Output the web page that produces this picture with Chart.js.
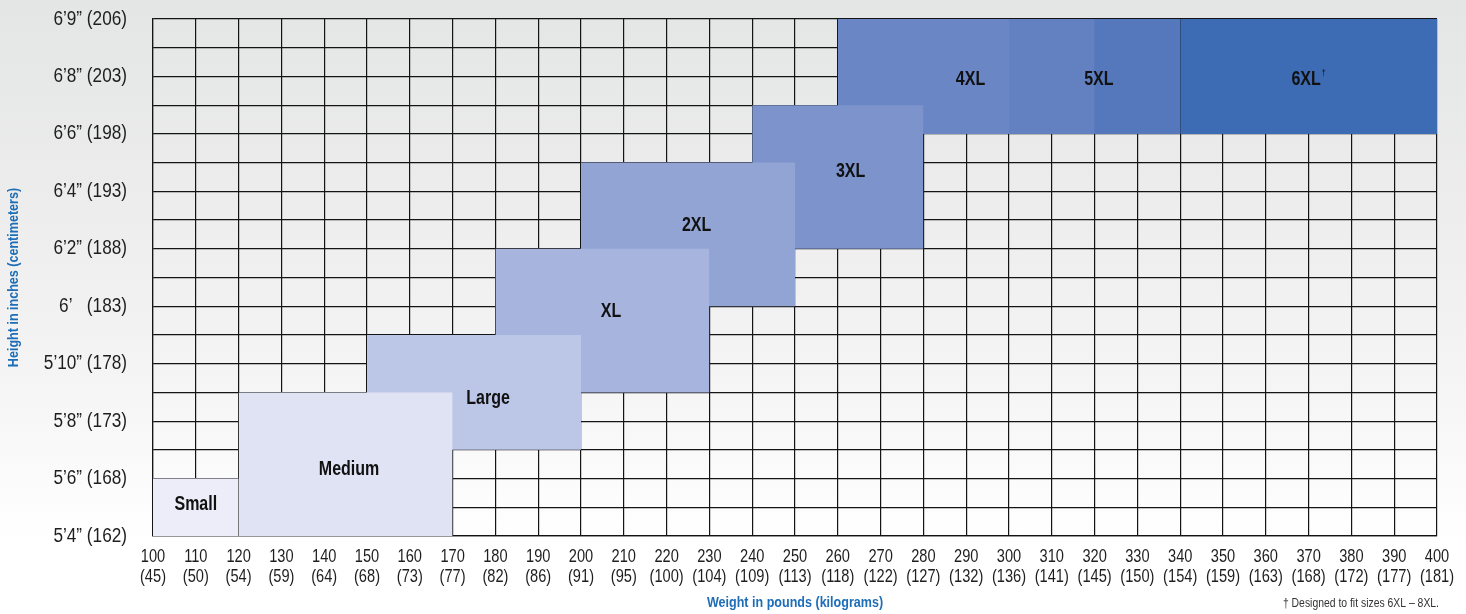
<!DOCTYPE html>
<html>
<head>
<meta charset="utf-8">
<script src="https://cdn.jsdelivr.net/npm/chart.js@4.4.1/dist/chart.umd.min.js"></script>
<style>
  html, body { margin: 0; padding: 0; }
  body {
    width: 1466px; height: 614px; overflow: hidden;
    background: linear-gradient(to bottom, #e4e5e5 0%, #ececec 30%, #f4f4f4 60%, #ffffff 88%, #ffffff 100%);
  }
  #wrap { position: relative; width: 1466px; height: 614px; }
  canvas { display: block; }
</style>
</head>
<body>
<div id="wrap"><canvas id="c" width="1466" height="614"></canvas></div>
<script>
// ---------- data ----------
const sizeNames   = ['Small', 'Medium', 'Large', 'XL', '2XL', '3XL', '4XL', '5XL', '6XL'];
const weightMin   = [100, 120, 150, 180, 200, 240, 260, 300, 340];   // lbs
const weightMax   = [120, 170, 200, 230, 250, 280, 320, 340, 400];   // lbs
const heightMin   = [64, 64, 67, 69, 72, 74, 78, 78, 78];            // inches
const heightMax   = [66, 69, 71, 74, 77, 79, 82, 82, 82];            // inches
const labelWeight = [110, 145.8, 178.3, 207, 227, 263, 291, 321, 370];
const labelHeight = [65.1, 66.3, 68.8, 71.8, 74.8, 76.7, 79.9, 79.9, 79.9];
const daggerSizes = ['6XL'];

const weightTicks = [100,110,120,130,140,150,160,170,180,190,200,210,220,230,240,250,260,270,280,290,300,310,320,330,340,350,360,370,380,390,400];
const kgTicks     = [45,50,54,59,64,68,73,77,82,86,91,95,100,104,109,113,118,122,127,132,136,141,145,150,154,159,163,168,172,177,181];
const heightTickValues = [64, 66, 68, 70, 72, 74, 76, 78, 80, 82];
const heightTickLabels = ['5’4” (162)', '5’6” (168)', '5’8” (173)', '5’10” (178)', '6’   (183)',
                          '6’2” (188)', '6’4” (193)', '6’6” (198)', '6’8” (203)', '6’9” (206)'];

const xTitle = 'Weight in pounds (kilograms)';
const yTitle = 'Height in inches (centimeters)';
const footnote = '† Designed to fit sizes 6XL – 8XL.';

// ---------- styles ----------
const FONT = "'Liberation Sans', Arial, sans-serif";
const boxColors = ['#ecedf8', '#e0e3f3', '#bcc7e7', '#a7b4de', '#91a4d4', '#7c93cb',
                   '#6a86c4', '#5577bb', '#3d6cb5'];
const overlapColor = '#6381c1';   // where 4XL and 5XL ranges overlap
const GRID = '#141414';
const TITLE_BLUE = '#1d6db7';

// horizontal condensing per text style (condensed typeface look)
function condenseFor(font) {
  const m = /(\d+(?:\.\d+)?)px/.exec(font);
  const size = m ? parseFloat(m[1]) : 12;
  const bold = /bold|[6-9]00/.test(font);
  if (bold) return size >= 18 ? 0.8 : 0.81;   // box labels / axis titles
  if (size >= 19.5) return 0.86;              // height tick labels
  if (size >= 18.5) return 0.77;              // weight tick labels
  return 0.8;                                 // footnote, dagger
}

const canvas = document.getElementById('c');
const c2d = canvas.getContext('2d');
const origFill = c2d.fillText.bind(c2d);
const origMeasure = c2d.measureText.bind(c2d);
c2d.fillText = function (text, x, y) {
  const sx = condenseFor(c2d.font);
  c2d.save();
  c2d.translate(x, y);
  c2d.scale(sx, 1);
  origFill(text, 0, 0);
  c2d.restore();
};
c2d.measureText = function (text) {
  const sx = condenseFor(c2d.font);
  const m = origMeasure(text);
  return {
    width: m.width * sx,
    actualBoundingBoxLeft: m.actualBoundingBoxLeft * sx,
    actualBoundingBoxRight: m.actualBoundingBoxRight * sx,
    actualBoundingBoxAscent: m.actualBoundingBoxAscent,
    actualBoundingBoxDescent: m.actualBoundingBoxDescent,
    fontBoundingBoxAscent: m.fontBoundingBoxAscent,
    fontBoundingBoxDescent: m.fontBoundingBoxDescent
  };
};

function fillFor(i) {
  // 4XL range overlapping the 5XL range is shown in a blended shade
  if (sizeNames[i] !== '4XL') return boxColors[i];
  return (context) => {
    const chart = context.chart;
    const xs = chart.scales && chart.scales.x;
    if (!xs || !chart.chartArea) return boxColors[i];
    const x0 = xs.getPixelForValue(weightMin[i]);
    const x1 = xs.getPixelForValue(weightMax[i]);
    const xo = xs.getPixelForValue(weightMin[i + 1]);
    const r = Math.min(1, Math.max(0, (xo - x0) / (x1 - x0)));
    const g = chart.ctx.createLinearGradient(x0, 0, x1, 0);
    g.addColorStop(0, boxColors[i]);
    g.addColorStop(r, boxColors[i]);
    g.addColorStop(r, overlapColor);
    g.addColorStop(1, overlapColor);
    return g;
  };
}

const datasets = sizeNames.map((name, i) => ({
  label: name,
  data: [{ x: weightMin[i], y: heightMax[i] }, { x: weightMax[i], y: heightMax[i] }],
  fill: { value: heightMin[i] },
  backgroundColor: fillFor(i),
  borderWidth: 0,
  borderColor: 'rgba(0,0,0,0)',
  pointRadius: 0,
  pointHoverRadius: 0,
  tension: 0
}));

const boxLabels = {
  id: 'boxLabels',
  afterDatasetsDraw(chart) {
    const { ctx, scales: { x, y } } = chart;
    ctx.save();
    ctx.fillStyle = '#111';
    ctx.textBaseline = 'middle';
    sizeNames.forEach((name, i) => {
      const px = x.getPixelForValue(labelWeight[i]);
      const py = y.getPixelForValue(labelHeight[i]);
      ctx.font = `bold 20px ${FONT}`;
      const w = ctx.measureText(name).width;
      if (daggerSizes.includes(name)) {
        ctx.font = `9px ${FONT}`;
        const dw = ctx.measureText('†').width + 1;
        const start = px - (w + dw) / 2;
        ctx.font = `bold 20px ${FONT}`;
        ctx.textAlign = 'left';
        ctx.fillText(name, start, py);
        ctx.font = `9px ${FONT}`;
        ctx.fillText('†', start + w + 1, py - 6);
      } else {
        ctx.textAlign = 'center';
        ctx.fillText(name, px, py);
      }
    });
    // footnote
    ctx.font = `13px ${FONT}`;
    ctx.fillStyle = '#333';
    ctx.textAlign = 'right';
    ctx.textBaseline = 'middle';
    ctx.fillText(footnote, x.right + 2, 603);
    ctx.restore();
  }
};

new Chart(canvas, {
  type: 'line',
  data: { datasets },
  plugins: [boxLabels],
  options: {
    responsive: false,
    animation: false,
    events: [],
    layout: { padding: { top: 19, right: 29, left: 0, bottom: 0 } },
    plugins: {
      legend: { display: false },
      tooltip: { enabled: false },
      filler: { propagate: false }
    },
    scales: {
      x: {
        type: 'linear',
        min: 100, max: 400,
        afterFit(s) { s.height = 78; s.paddingLeft = 0; s.paddingRight = 0; },
        afterBuildTicks(s) { s.ticks = weightTicks.map(v => ({ value: v })); },
        ticks: {
          autoSkip: false, maxRotation: 0, minRotation: 0,
          padding: 11,
          color: '#1e1e1e',
          font: { family: FONT, size: 19, lineHeight: 1.05 },
          callback: (v) => {
            const i = weightTicks.indexOf(v);
            return i < 0 ? '' : [String(v), '(' + kgTicks[i] + ')'];
          }
        },
        grid: { color: GRID, lineWidth: 1.2, drawTicks: false },
        border: { display: true, color: GRID, width: 1.2 },
        title: {
          display: true, text: xTitle, color: TITLE_BLUE,
          font: { family: FONT, size: 15.5, weight: 'bold' },
          padding: { top: 0, bottom: 1.5 }
        }
      },
      y: {
        type: 'linear',
        min: 64, max: 82,
        afterFit(s) { s.width = 153; s.paddingTop = 0; s.paddingBottom = 0; },
        ticks: {
          stepSize: 1, autoSkip: false,
          padding: 26,
          color: '#1e1e1e',
          font: { family: FONT, size: 20 },
          callback: (v) => {
            const i = heightTickValues.indexOf(v);
            return i < 0 ? '' : heightTickLabels[i];
          }
        },
        grid: { color: GRID, lineWidth: 1.2, drawTicks: false },
        border: { display: true, color: GRID, width: 1.2 },
        title: {
          display: true, text: yTitle, color: TITLE_BLUE,
          font: { family: FONT, size: 15.5, weight: 'bold' },
          padding: { top: 4, bottom: 0 }
        }
      }
    }
  }
});
</script>
</body>
</html>
